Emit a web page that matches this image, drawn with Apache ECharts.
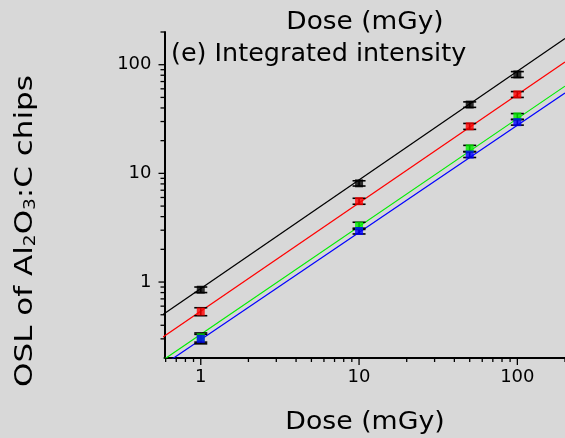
<!DOCTYPE html>
<html><head><meta charset="utf-8">
<script src="https://cdn.jsdelivr.net/npm/echarts@6/dist/echarts.min.js"></script>
<style>html,body{margin:0;padding:0;background:#d8d8d8;}#c{width:565px;height:438px;}</style>
</head><body><div id="c"></div>
<script>
// ---- data ----
const doses = [1, 10, 50, 100];
const blackVals = [0.85, 8.1, 43, 81.4];
const blackErr  = [0.05, 0.45, 2.5, 5];
const redVals   = [0.535, 5.55, 27.1, 53.3];
const redErr    = [0.045, 0.35, 1.7, 3.3];
const greenVals = [0.31, 3.3, 17.0, 33.4];
const greenErr  = [0.03, 0.25, 1.1, 2.1];
const blueVals  = [0.30, 2.95, 14.9, 29.6];
const blueErr   = [0.03, 0.18, 0.9, 1.8];
// fitted lines (end points)
const fitX      = [0.5, 200];
const blackFit  = [0.435, 174];
const redFit    = [0.27, 106];
const greenFit  = [0.166, 63.5];
const blueFit   = [0.149, 55];
// axis ticks
const xMajorTicks = [1, 10, 100];
const xMinorTicks = [0.6, 0.7, 0.8, 0.9, 2, 3, 4, 5, 6, 7, 8, 9, 20, 30, 40, 50, 60, 70, 80, 90, 200];
const yMajorTicks = [1, 10, 100];
const yMinorTicks = [0.3, 0.4, 0.5, 0.6, 0.7, 0.8, 0.9, 2, 3, 4, 5, 6, 7, 8, 9, 20, 30, 40, 50, 60, 70, 80, 90, 200];
const xMin = 0.59, xMax = 200, yMin = 0.2, yMax = 200;

const FONT = '"DejaVu Sans", sans-serif';
const chart = echarts.init(document.getElementById('c'));

function zip(xs, ys) { return xs.map((x, i) => [x, ys[i]]); }
function zip3(xs, ys, es) { return xs.map((x, i) => [x, ys[i], es[i]]); }

function errSeries(vals, errs) {
  return {
    type: 'custom', z: 3, silent: true,
    encode: { x: 0, y: 1 },
    data: zip3(doses, vals, errs),
    renderItem: function (params, api) {
      const x = api.value(0), y = api.value(1), e = api.value(2);
      const lo = api.coord([x, y - e]);
      const hi = api.coord([x, y + e]);
      const w = 6.5;
      const st = { stroke: '#000', lineWidth: 1.6 };
      return { type: 'group', children: [
        { type: 'line', shape: { x1: lo[0], y1: lo[1], x2: hi[0], y2: hi[1] }, style: st },
        { type: 'line', shape: { x1: lo[0] - w, y1: lo[1], x2: lo[0] + w, y2: lo[1] }, style: st },
        { type: 'line', shape: { x1: hi[0] - w, y1: hi[1], x2: hi[0] + w, y2: hi[1] }, style: st }
      ]};
    }
  };
}
function markSeries(vals, color) {
  return { type: 'scatter', z: 4, symbol: 'rect', symbolSize: 8, silent: true,
    itemStyle: { color: color }, data: zip(doses, vals) };
}
function fitSeries(vals, color) {
  return { type: 'line', z: 2, showSymbol: false, silent: true, clip: true,
    lineStyle: { color: color, width: 1.2 }, data: zip(fitX, vals) };
}

const tickData = []
  .concat(xMajorTicks.map(v => [v, yMin, 0]))
  .concat(xMinorTicks.map(v => [v, yMin, 1]))
  .concat(yMajorTicks.map(v => [xMin, v, 2]))
  .concat(yMinorTicks.map(v => [xMin, v, 3]));

const tickSeries = {
  type: 'custom', z: 5, silent: true, clip: false,
  encode: { x: 0, y: 1 },
  data: tickData,
  renderItem: function (params, api) {
    const p = api.coord([api.value(0), api.value(1)]);
    const k = api.value(2);
    const st = { stroke: '#000', lineWidth: 1.3 };
    let shape;
    if (k === 0) shape = { x1: p[0], y1: p[1], x2: p[0], y2: p[1] + 7 };
    else if (k === 1) shape = { x1: p[0], y1: p[1], x2: p[0], y2: p[1] + 4 };
    else if (k === 2) shape = { x1: p[0] - 6, y1: p[1], x2: p[0], y2: p[1] };
    else shape = { x1: p[0] - 4, y1: p[1], x2: p[0], y2: p[1] };
    return { type: 'line', shape: shape, style: st };
  }
};

const axisCommon = {
  type: 'log', logBase: 10,
  axisLine: { show: true, lineStyle: { color: '#000', width: 2 } },
  axisTick: { show: false }, minorTick: { show: false },
  splitLine: { show: false }, minorSplitLine: { show: false },
};

chart.setOption({
  animation: false,
  backgroundColor: '#d8d8d8',
  grid: { left: 164.5, right: 0, top: 32, bottom: 80, containLabel: false },
  xAxis: Object.assign({}, axisCommon, { min: xMin, max: xMax, position: 'bottom',
    axisLabel: { showMinLabel: false, showMaxLabel: false, fontFamily: FONT, fontSize: 18, color: '#000', margin: 10 } }),
  yAxis: Object.assign({}, axisCommon, { min: yMin, max: yMax, position: 'left',
    axisLabel: { showMinLabel: false, showMaxLabel: false, fontFamily: FONT, fontSize: 18, color: '#000', margin: 13 } }),
  series: [
    fitSeries(blackFit, '#000000'), fitSeries(redFit, '#ff0000'),
    fitSeries(greenFit, '#00ee00'), fitSeries(blueFit, '#0000ff'),
    errSeries(blackVals, blackErr), errSeries(redVals, redErr),
    errSeries(greenVals, greenErr), errSeries(blueVals, blueErr),
    markSeries(blackVals, '#000000'), markSeries(redVals, '#ff0000'),
    markSeries(greenVals, '#00ee00'), markSeries(blueVals, '#0000ff'),
    tickSeries
  ],
  graphic: [
    { type: 'text', x: 365, y: 22.5, scaleX: 1.1, silent: true,
      style: { text: 'Dose (mGy)', fontFamily: FONT, fontSize: 24, fill: '#000',
        align: 'center', textAlign: 'center', verticalAlign: 'middle', textVerticalAlign: 'middle' } },
    { type: 'text', x: 365, y: 422.5, scaleX: 1.07, silent: true,
      style: { text: 'Dose (mGy)', fontFamily: FONT, fontSize: 25, fill: '#000',
        align: 'center', textAlign: 'center', verticalAlign: 'middle', textVerticalAlign: 'middle' } },
    { type: 'text', x: 171, y: 54.5, scaleX: 1.06, silent: true,
      style: { text: '(e) Integrated intensity', fontFamily: FONT, fontSize: 24, fill: '#000',
        align: 'left', textAlign: 'left', verticalAlign: 'middle', textVerticalAlign: 'middle' } },
    { type: 'text', x: 25.8, y: 231, rotation: Math.PI / 2, scaleX: 1.24, silent: true,
      style: { text: 'OSL of Al{sub|2}O{sub|3}:C chips', fontFamily: FONT, fontSize: 25, fill: '#000',
        align: 'center', textAlign: 'center', verticalAlign: 'middle', textVerticalAlign: 'middle',
        rich: { sub: { fontFamily: FONT, fontSize: 15, fill: '#000', verticalAlign: 'bottom' } } } }
  ]
});
</script></body></html>
